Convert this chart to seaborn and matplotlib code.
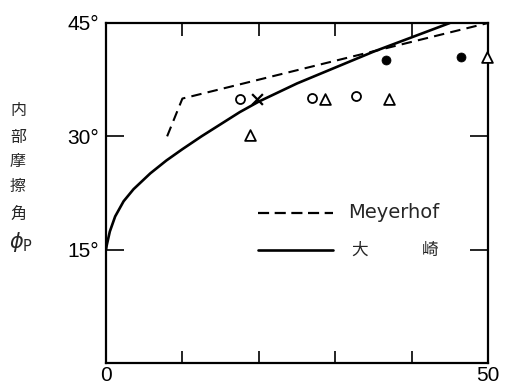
import matplotlib
matplotlib.use("Agg")
import matplotlib.pyplot as plt
import seaborn as sns
import pandas as pd

# Curves
meyerhof_x = [8, 10, 50]
meyerhof_y = [30, 35, 45]
osaki_x = [0, 0.1, 0.5, 1.2, 2.3, 3.6, 5.8, 7.9, 10, 12.5, 15, 17.5, 20, 25, 30, 35, 40, 45]
osaki_y = [15, 15.6, 17.4, 19.4, 21.4, 23.0, 25.1, 26.8, 28.3, 30.0, 31.6, 33.2, 34.6, 37.0, 39.1, 41.2, 43.1, 45]

# Data points
open_x = [17.6, 27.0, 32.7]
open_y = [34.9, 35.1, 35.4]
tri_x = [18.8, 28.6, 37.0, 49.9]
tri_y = [30.2, 34.9, 35.0, 40.5]
filled_x = [36.7, 46.5]
filled_y = [40.1, 40.5]
cross_x = [19.8]
cross_y = [35.0]

yticks = [15, 30, 45]
ytick_labels = ["15°", "30°", "45°"]
ylabel_chars = ["内", "部", "摩", "擦", "角"]
legend_labels = ["Meyerhof", "大", "崎"]

sns.set_theme(style="white")
plt.rcParams['font.family'] = ['Liberation Sans', 'Noto Sans CJK JP', 'DejaVu Sans']

fig = plt.figure(figsize=(5.1, 3.86), dpi=100)
ax = fig.add_axes([106/510, 1-363/386, (488-106)/510, (363-23)/386])

df_m = pd.DataFrame({"x": meyerhof_x, "y": meyerhof_y})
df_o = pd.DataFrame({"x": osaki_x, "y": osaki_y})
sns.lineplot(data=df_m, x="x", y="y", ax=ax, color="black", lw=1.5,
             linestyle=(0, (5, 3)), sort=False)
sns.lineplot(data=df_o, x="x", y="y", ax=ax, color="black", lw=1.9, sort=False)

sns.scatterplot(x=open_x, y=open_y, ax=ax, marker="o", s=42, facecolor="white",
                edgecolor="black", linewidth=1.3, zorder=5)
sns.scatterplot(x=tri_x, y=tri_y, ax=ax, marker="^", s=60, facecolor="white",
                edgecolor="black", linewidth=1.3, zorder=5, clip_on=False)
sns.scatterplot(x=filled_x, y=filled_y, ax=ax, marker="o", s=42, color="black",
                edgecolor="black", zorder=5)
sns.scatterplot(x=cross_x, y=cross_y, ax=ax, marker="x", s=60, color="black",
                linewidth=1.6, zorder=5)

ax.set_xlim(0, 50)
ax.set_ylim(0, 45)
ax.set_xlabel("")
ax.set_ylabel("")

for s in ax.spines.values():
    s.set_visible(True)
    s.set_color("black")
    s.set_linewidth(1.6)

ax.set_xticks([0, 10, 20, 30, 40, 50])
ax.set_xticklabels(["0", "", "", "", "", "50"], fontsize=15)
ax.set_yticks(yticks)
ax.set_yticklabels(ytick_labels, fontsize=15)
ax.tick_params(axis="x", direction="in", length=9, width=1.2, top=True, bottom=True,
               color="black", pad=2, labelcolor="black")
ax.tick_params(axis="y", direction="in", length=13, width=1.2, left=True, right=True,
               color="black", pad=5, labelcolor="black")
ax.grid(False)

# Legend drawn manually
ax.plot([19.9, 29.7], [19.8, 19.8], color="black", lw=1.6, linestyle=(0, (5, 2.5)))
ax.text(31.7, 19.9, legend_labels[0], fontsize=14, va="center", ha="left",
        family="DejaVu Sans")
ax.plot([19.9, 29.7], [14.9, 14.9], color="black", lw=1.9)
ax.text(33.2, 14.9, legend_labels[1], fontsize=12, va="center", ha="center",
        family="Noto Sans CJK JP")
ax.text(42.4, 14.9, legend_labels[2], fontsize=12, va="center", ha="center",
        family="Noto Sans CJK JP")

# Vertical y label
ys = [111, 137, 161, 187, 214]
for ch, yp in zip(ylabel_chars, ys):
    fig.text(18/510, 1-yp/386, ch, fontsize=11.5, ha="center", va="center",
             family="Noto Sans CJK JP")
fig.text(21/510, 1-242/386, r"$\phi_{\mathrm{P}}$", fontsize=15, ha="center", va="center")

fig.savefig("out.png", dpi=100, facecolor="white")
